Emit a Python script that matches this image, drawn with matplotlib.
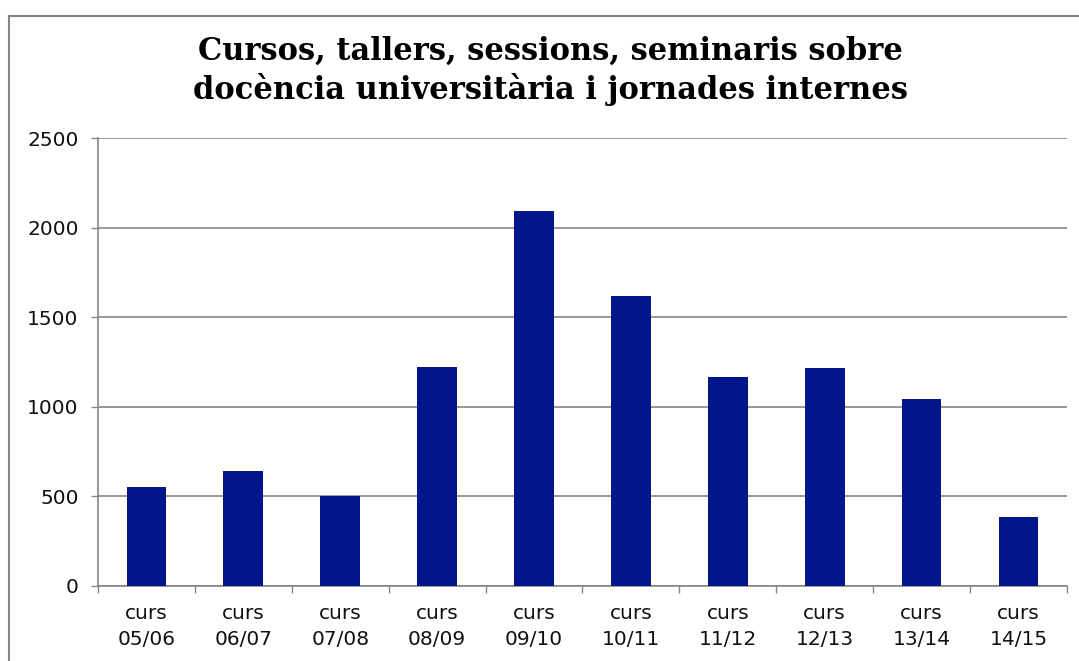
import numpy as np
import matplotlib.pyplot as plt
from matplotlib.lines import Line2D

# dades llegides del gràfic
cursos = ['05/06', '06/07', '07/08', '08/09', '09/10',
          '10/11', '11/12', '12/13', '13/14', '14/15']
participants = [552, 642, 502, 1224, 2093, 1618, 1166, 1217, 1044, 385]
y_ticks = [0, 500, 1000, 1500, 2000, 2500]

title = ('Cursos, tallers, sessions, seminaris sobre\n'
         'docència universitària i jornades internes')

grey = '#868686'
bar_color = '#00168A'

fig = plt.figure(figsize=(10.79, 6.61), dpi=100)
ax = fig.add_axes([0.0908, 0.1135, 0.898, 0.6777])

# marc de la figura: només es veuen la vora superior i l'esquerra
top = 1 - 15.5 / 661
left = 9 / 1079
fig.add_artist(Line2D([left, 1.0], [top, top], transform=fig.transFigure,
                      color=grey, linewidth=1.5))
fig.add_artist(Line2D([left, left], [0.0, top], transform=fig.transFigure,
                      color=grey, linewidth=1.5))

x = np.arange(len(cursos))
ax.bar(x, participants, width=0.41, color=bar_color, zorder=3)

ax.set_xlim(-0.5, len(cursos) - 0.5)
ax.set_ylim(0, 2500)

# graella horitzontal
ax.set_yticks(y_ticks)
ax.set_yticklabels([str(t) for t in y_ticks])
ax.yaxis.grid(True, color=grey, linewidth=1.2, zorder=0)

# marques de l'eix x entre categories
ax.set_xticks(np.arange(-0.5, len(cursos)), minor=False)
ax.set_xticklabels([])
ax.set_xticks(x, minor=True)
ax.set_xticklabels([f'curs\n{c}' for c in cursos], minor=True)
ax.tick_params(axis='x', which='minor', length=0, pad=13)
ax.tick_params(axis='x', which='major', length=5, width=1, color=grey)
ax.tick_params(axis='y', length=5, width=1, color=grey, pad=9)

for lbl in ax.get_xticklabels(minor=True) + ax.get_yticklabels():
    lbl.set_fontfamily('DejaVu Sans')
    lbl.set_fontsize(14.5)
    lbl.set_color('#111111')
for lbl in ax.get_xticklabels(minor=True):
    lbl.set_linespacing(1.45)

for side in ('top', 'right'):
    ax.spines[side].set_visible(False)
for side in ('left', 'bottom'):
    ax.spines[side].set_color(grey)
    ax.spines[side].set_linewidth(1.2)

fig.text(0.51, 0.893, title, ha='center', va='center',
         fontfamily='DejaVu Serif', fontweight='bold', fontsize=22,
         linespacing=1.25)

fig.savefig('out.png', dpi=100)
plt.close()
